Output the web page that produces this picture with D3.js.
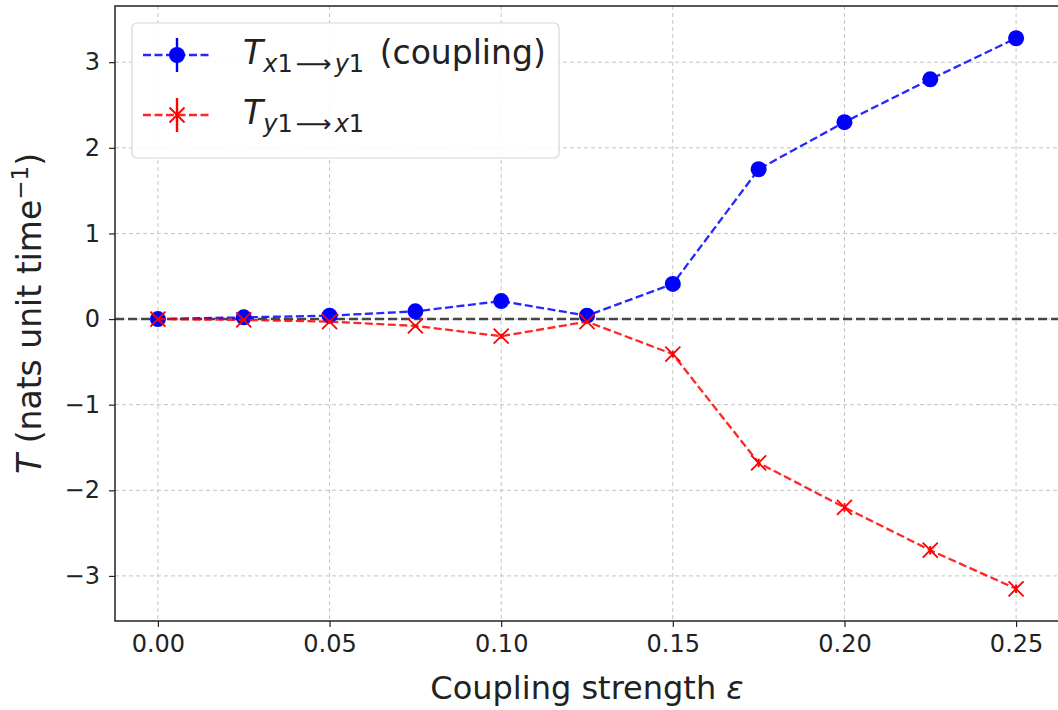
<!DOCTYPE html>
<html lang="en">
  <head>
    <meta charset="utf-8">
    <title>Transfer entropy vs coupling</title>
    <script src="https://d3js.org/d3.v7.min.js"></script>
    <style>
      body { margin: 0; background: #fff; }
      svg text { font-family: "DejaVu Sans", sans-serif; fill: #222; }
      .tick text { font-size: 24px; }
    </style>
  </head>
  <body>
    <div id="chart"></div>
    <script>
      // data
      var eps = [0, 0.025, 0.05, 0.075, 0.1, 0.125, 0.15, 0.175, 0.2, 0.225, 0.25];
      var txy = [0.0, 0.02, 0.04, 0.09, 0.21, 0.04, 0.41, 1.75, 2.30, 2.80, 3.28];
      var txyErr = [0.005, 0.01, 0.01, 0.02, 0.03, 0.02, 0.04, 0.05, 0.05, 0.05, 0.05];
      var tyx = [0.0, -0.01, -0.03, -0.08, -0.20, -0.03, -0.41, -1.68, -2.20, -2.70, -3.15];
      var tyxErr = [0.005, 0.01, 0.01, 0.02, 0.03, 0.02, 0.04, 0.05, 0.05, 0.05, 0.05];
      var xTicks = [0, 0.05, 0.1, 0.15, 0.2, 0.25];
      var yTicks = [-3, -2, -1, 0, 1, 2, 3];

      var w = 1058, h = 710;
      var margin = {top: 6, right: -1, bottom: 89, left: 115};

      var svg = d3.select("#chart").append("svg")
                  .attr("width", w).attr("height", h);

      // matplotlib style 5% padding
      var xPad = (d3.max(eps) - d3.min(eps)) * 0.05;
      var lo = d3.min(tyx.map((d, i) => d - tyxErr[i]).concat(txy.map((d, i) => d - txyErr[i])));
      var hi = d3.max(txy.map((d, i) => d + txyErr[i]).concat(tyx.map((d, i) => d + tyxErr[i])));
      var yPad = (hi - lo) * 0.05;

      var xScale = d3.scaleLinear()
                     .domain([d3.min(eps) - xPad, d3.max(eps) + xPad])
                     .range([margin.left, w - margin.right]);
      var yScale = d3.scaleLinear()
                     .domain([lo - yPad, hi + yPad])
                     .range([h - margin.bottom, margin.top]);

      var fmtMinus = s => s.replace("-", "\u2212");

      // grid
      var grid = svg.append("g");
      grid.selectAll(".gx").data(xTicks).enter().append("line")
          .attr("x1", d => xScale(d)).attr("x2", d => xScale(d))
          .attr("y1", margin.top).attr("y2", h - margin.bottom)
          .attr("stroke", "#c4c4c4").attr("stroke-width", 1).attr("stroke-dasharray", "4,3");
      grid.selectAll(".gy").data(yTicks).enter().append("line")
          .attr("x1", margin.left).attr("x2", w - margin.right)
          .attr("y1", d => yScale(d)).attr("y2", d => yScale(d))
          .attr("stroke", "#c4c4c4").attr("stroke-width", 1).attr("stroke-dasharray", "4,3");

      // zero line
      svg.append("line")
         .attr("x1", margin.left).attr("x2", w - margin.right)
         .attr("y1", yScale(0)).attr("y2", yScale(0))
         .attr("stroke", "#333").attr("stroke-opacity", 0.9)
         .attr("stroke-width", 2.5).attr("stroke-dasharray", "9,4");

      var line = d3.line().x((d, i) => xScale(eps[i])).y(d => yScale(d));

      function drawSeries(vals, errs, color, marker) {
        var g = svg.append("g");
        g.append("path").datum(vals).attr("d", line)
         .attr("fill", "none").attr("stroke", color).attr("stroke-opacity", 0.85)
         .attr("stroke-width", 2.3).attr("stroke-dasharray", "8,3.5");
        g.selectAll(".err").data(vals).enter().append("line")
         .attr("x1", (d, i) => xScale(eps[i])).attr("x2", (d, i) => xScale(eps[i]))
         .attr("y1", (d, i) => yScale(d - errs[i])).attr("y2", (d, i) => yScale(d + errs[i]))
         .attr("stroke", color).attr("stroke-width", 2);
        if (marker == "circle") {
          g.selectAll("circle").data(vals).enter().append("circle")
           .attr("cx", (d, i) => xScale(eps[i])).attr("cy", d => yScale(d))
           .attr("r", 8).attr("fill", color);
        } else {
          g.selectAll(".mk").data(vals).enter().append("path")
           .attr("transform", (d, i) => `translate(${xScale(eps[i])},${yScale(d)})`)
           .attr("d", "M-7.5,-7.5L7.5,7.5M-7.5,7.5L7.5,-7.5")
           .attr("stroke", color).attr("stroke-width", 1.8).attr("fill", "none");
        }
      }

      drawSeries(txy, txyErr, "#0000ff", "circle");
      drawSeries(tyx, tyxErr, "#ff0000", "x");

      // axes
      var xAxis = d3.axisBottom(xScale).tickValues(xTicks).tickFormat(d3.format(".2f")).tickSize(6).tickPadding(8);
      var yAxis = d3.axisLeft(yScale).tickValues(yTicks).tickFormat(d => fmtMinus(String(d))).tickSize(6).tickPadding(9);

      var gx = svg.append("g").attr("transform", `translate(0, ${h - margin.bottom})`).call(xAxis);
      var gy = svg.append("g").attr("transform", `translate(${margin.left}, 0)`).call(yAxis);
      gx.select(".domain").remove();
      gy.select(".domain").remove();
      svg.selectAll(".tick line").attr("stroke", "#222").attr("stroke-width", 1.2);
      svg.selectAll(".tick text").attr("fill", "#222");

      // frame
      svg.append("rect")
         .attr("x", margin.left).attr("y", margin.top)
         .attr("width", w - margin.right - margin.left).attr("height", h - margin.bottom - margin.top)
         .attr("fill", "none").attr("stroke", "#222").attr("stroke-width", 1.5);

      // axis labels
      var xl = svg.append("text")
         .attr("x", (margin.left + w - margin.right) / 2).attr("y", 699)
         .attr("text-anchor", "middle").attr("font-size", 32);
      xl.append("tspan").text("Coupling strength ");
      xl.append("tspan").attr("font-style", "italic").text("\u03b5");

      var yl = svg.append("text")
         .attr("transform", `translate(41, ${(margin.top + h - margin.bottom) / 2}) rotate(-90)`)
         .attr("text-anchor", "middle").attr("font-size", 33);
      yl.append("tspan").attr("font-style", "italic").text("T");
      yl.append("tspan").text(" (nats unit time");
      yl.append("tspan").attr("font-size", 23).attr("dy", -13).text("\u22121");
      yl.append("tspan").attr("dy", 13).text(")");

      // legend
      var leg = svg.append("g");
      leg.append("rect").attr("x", 132).attr("y", 23).attr("width", 427).attr("height", 135)
         .attr("rx", 5).attr("fill", "#fff").attr("fill-opacity", 0.85)
         .attr("stroke", "#d8d8d8").attr("stroke-width", 1.2);

      var legItems = [
        {color: "#0000ff", marker: "circle", from: "x1", to: "y1", extra: " (coupling)"},
        {color: "#ff0000", marker: "x", from: "y1", to: "x1", extra: ""}
      ];
      legItems.forEach(function(it, k) {
        var y = 55 + k * 60;
        leg.append("line").attr("x1", 143).attr("x2", 212).attr("y1", y).attr("y2", y)
           .attr("stroke", it.color).attr("stroke-width", 2.3).attr("stroke-dasharray", "8,3.5").attr("stroke-opacity", 0.85);
        leg.append("line").attr("x1", 177).attr("x2", 177).attr("y1", y - 17).attr("y2", y + 17)
           .attr("stroke", it.color).attr("stroke-width", 2.4);
        if (it.marker == "circle") {
          leg.append("circle").attr("cx", 177).attr("cy", y).attr("r", 8).attr("fill", it.color);
        } else {
          leg.append("path").attr("transform", `translate(177,${y})`).attr("d", "M-7.5,-7.5L7.5,7.5M-7.5,7.5L7.5,-7.5")
             .attr("stroke", it.color).attr("stroke-width", 1.8);
        }
        var t = leg.append("text").attr("x", 243).attr("y", y + 9).attr("font-size", 33);
        t.append("tspan").attr("font-style", "italic").text("T");
        var sub = t.append("tspan").attr("font-size", 24).attr("dy", 8);
        sub.append("tspan").attr("font-style", "italic").text(it.from[0]);
        sub.append("tspan").text(it.from[1]);
        sub.append("tspan").attr("dx", 3).attr("textLength", 36).attr("lengthAdjust", "spacingAndGlyphs").text("\u27f6");
        sub.append("tspan").attr("dx", 3).attr("font-style", "italic").text(it.to[0]);
        sub.append("tspan").text(it.to[1]);
        if (it.extra) t.append("tspan").attr("dy", -8).attr("dx", 5).text(it.extra);
      });
    </script>
  </body>
</html>
